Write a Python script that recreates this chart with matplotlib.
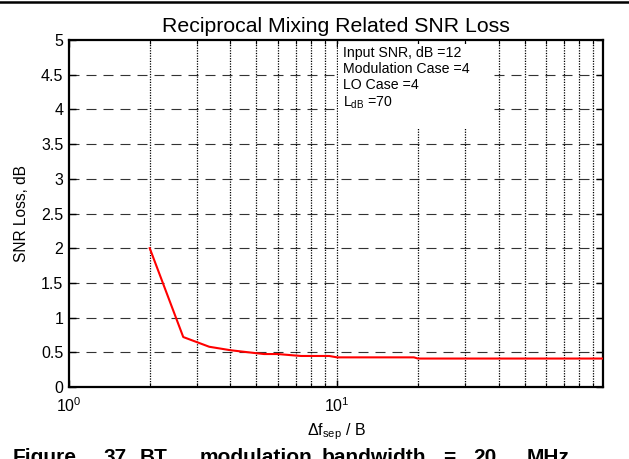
import math
import matplotlib
matplotlib.use("Agg")
import matplotlib.pyplot as plt
from matplotlib.ticker import FixedLocator, FuncFormatter, NullFormatter
from matplotlib.patches import Rectangle
from matplotlib.lines import Line2D

plt.rcParams['font.family'] = ['Liberation Sans', 'DejaVu Sans']
plt.rcParams['mathtext.fontset'] = 'custom'
plt.rcParams['mathtext.rm'] = 'Liberation Sans'
plt.rcParams['mathtext.it'] = 'Liberation Sans'

# ---- data ----
freq_sep_ratio = [2.0, 2.667, 3.333, 4.0, 4.667, 5.333, 6.0, 6.667, 7.333, 8.0, 8.667, 9.333, 10.0, 19.333, 20.0, 98.0]
snr_loss_db = [2.0, 0.72, 0.58, 0.53, 0.50, 0.475, 0.475, 0.46, 0.447, 0.447, 0.447, 0.447, 0.427, 0.427, 0.41, 0.41]
y_ticks = [0, 0.5, 1, 1.5, 2, 2.5, 3, 3.5, 4, 4.5, 5]
y_tick_labels = ['0', '0.5', '1', '1.5', '2', '2.5', '3', '3.5', '4', '4.5', '5']
x_major = [1, 10]
x_minor = [2, 3, 4, 5, 6, 7, 8, 9, 20, 30, 40, 50, 60, 70, 80, 90]
info_lines = ['Input SNR, dB =12', 'Modulation Case =4', 'LO Case =4', r'L$_{\mathregular{dB}}$ =70']
caption_words = ['Figure', '37', 'BT', 'modulation', 'bandwidth', '=', '20', 'MHz']

W, H = 629, 459
fig = plt.figure(figsize=(W / 100, H / 100), dpi=100)
fig.patch.set_facecolor('white')

L, R, T, B = 69, 603, 40, 387
ax = fig.add_axes([L / W, 1 - B / H, (R - L) / W, (B - T) / H])
ax.set_xscale('log')
ax.set_xlim(1, 98)
ax.set_ylim(0, 5)

# grid lines
for yv in y_ticks[1:-1]:
    ax.axhline(yv, color='#333333', lw=0.8, ls=(0, (9.0, 6.3)), zorder=1)
for xv in x_minor + [10]:
    ax.axvline(xv, color='black', lw=0.9, ls=(0, (1, 1.1)), zorder=1)

# info box
bx0, by0, bx1, by1 = 338, 44, 490, 128
ax.add_patch(Rectangle((bx0 / W, 1 - by1 / H), (bx1 - bx0) / W, (by1 - by0) / H,
                       transform=fig.transFigure, facecolor='white', edgecolor='none', zorder=2))
fig.text(343 / W, 1 - 46 / H, '\n'.join(info_lines), ha='left', va='top',
         fontsize=10.2, linespacing=1.2, zorder=3)

ax.plot(freq_sep_ratio, snr_loss_db, color='red', lw=1.5, zorder=4)

ax.yaxis.set_major_locator(FixedLocator(y_ticks))
ax.set_yticklabels(y_tick_labels)
ax.xaxis.set_major_locator(FixedLocator(x_major))
ax.xaxis.set_minor_locator(FixedLocator(x_minor))
ax.xaxis.set_major_formatter(FuncFormatter(lambda v, p: r'$\mathregular{10^{%d}}$' % round(math.log10(v))))
ax.xaxis.set_minor_formatter(NullFormatter())
ax.tick_params(axis='both', which='major', direction='in', length=5, width=1,
               top=True, right=True, labelsize=11.5, pad=4, colors='black')
ax.tick_params(axis='x', which='major', pad=7)
ax.tick_params(axis='x', which='minor', direction='in', length=3, width=0.8, top=True)
for s in ax.spines.values():
    s.set_linewidth(1.6)

ax.set_title('Reciprocal Mixing Related SNR Loss', fontsize=15.3, pad=6)
ax.set_ylabel('SNR Loss, dB', fontsize=11.2, labelpad=9)
ax.set_xlabel(r'$\mathregular{\Delta f_{sep}}$ / B', fontsize=11.5, labelpad=4)

# page border line at top
fig.add_artist(Line2D([0, 1], [1 - 2 / H, 1 - 2 / H], transform=fig.transFigure, color='black', lw=1.8))

# caption (cut off at the bottom edge, as in the reference)
caption_x = [13, 103, 140, 200, 322, 443, 473, 527]
for wd, xp in zip(caption_words, caption_x):
    fig.text(xp / W, 1 - 448 / H, wd, ha='left', va='top', fontsize=15, fontweight='bold')

fig.savefig('out.png', dpi=100)
